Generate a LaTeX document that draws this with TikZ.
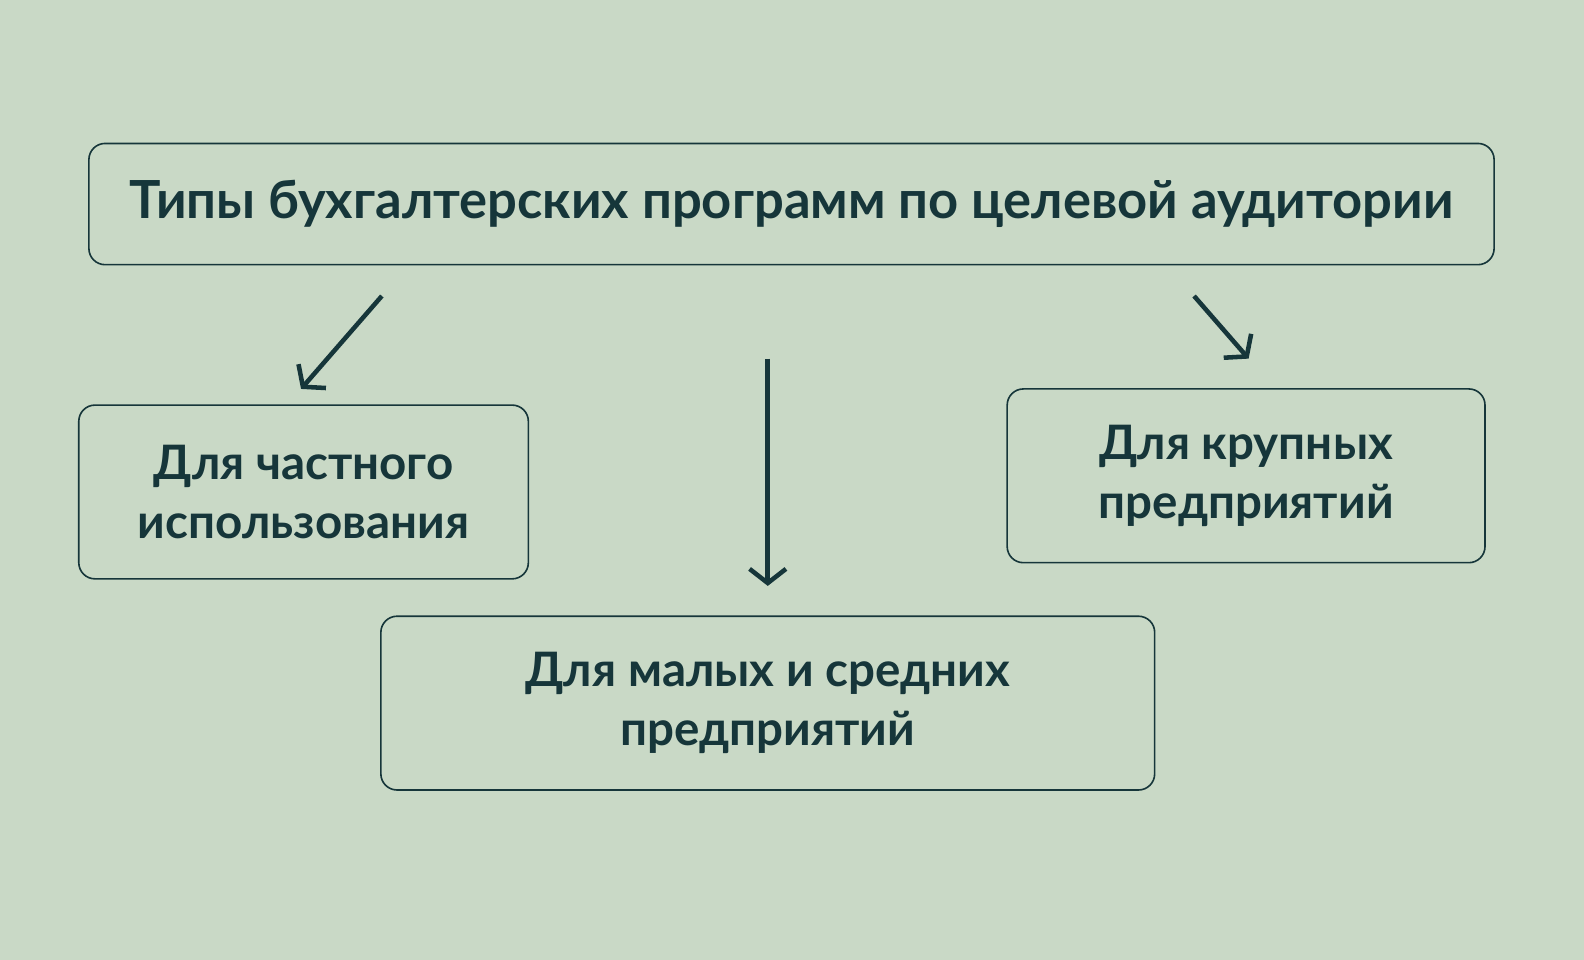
\documentclass[tikz,border=0pt]{standalone}
\usepackage{fontspec}
\setmainfont{Lato}
\usetikzlibrary{arrows.meta}
\definecolor{bg}{HTML}{C9D9C6}
\definecolor{ink}{HTML}{16363A}
\begin{document}
\begin{tikzpicture}[x=1pt,y=-1pt,
  box/.style={draw=ink,line width=1.6pt,rounded corners=16pt,text=ink,font=\bfseries\fontsize{47}{58}\selectfont,align=center,inner sep=0pt},
  arr/.style={draw=ink,line width=4.5pt,-{Straight Barb[length=14pt,width=36pt,line width=4.5pt]}}]
\fill[bg] (0,0) rectangle (1568,950);
\useasboundingbox (0,0) rectangle (1568,950);
\node[box,minimum width=1391pt,minimum height=120pt,font=\bfseries\fontsize{52}{60}\selectfont] (t) at (783.5,202) {Типы бухгалтерских программ по целевой аудитории};
\node[box,minimum width=445pt,minimum height=172pt] (l) at (300.5,487) {Для частного\\использования};
\node[box,minimum width=766pt,minimum height=172pt] (m) at (760,696) {Для малых и средних\\предприятий};
\node[box,minimum width=473pt,minimum height=172pt] (r) at (1233.5,471) {Для крупных\\предприятий};
\coordinate (a1) at (378,293); \coordinate (b1) at (298,385);
\coordinate (a2) at (760,355); \coordinate (b2) at (760,580);
\coordinate (a3) at (1182,293); \coordinate (b3) at (1236,355);
\draw[arr] (a1) -- (b1);
\draw[arr] (a2) -- (b2);
\draw[arr] (a3) -- (b3);
\end{tikzpicture}
\end{document}
